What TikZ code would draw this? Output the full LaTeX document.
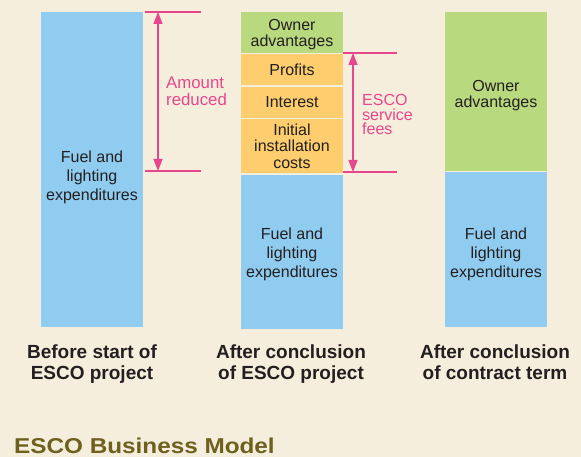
\documentclass[tikz,border=0pt]{standalone}
\usepackage{fontspec}
\setmainfont{Liberation Sans}
\newfontfamily\titlefont[FakeStretch=1.13]{Liberation Sans}
\usetikzlibrary{arrows.meta, positioning}

\definecolor{bgcream}{HTML}{F5EEDC}
\definecolor{fuelblue}{HTML}{8FCCF0}
\definecolor{ownergreen}{HTML}{B9D97F}
\definecolor{feeorange}{HTML}{FDCD6E}
\definecolor{dimpink}{HTML}{E8468C}
\definecolor{titleolive}{HTML}{6E601E}
\definecolor{ink}{HTML}{231F20}

\begin{document}
\begin{tikzpicture}[x=1pt, y=-1pt,
    seg/.style={inner sep=0pt, minimum width=102pt, align=center, text=ink,
        font=\fontsize{16}{16}\selectfont},
    fuel/.style={seg, fill=fuelblue},
    owner/.style={seg, fill=ownergreen},
    fee/.style={seg, fill=feeorange, font=\fontsize{16}{16.5}\selectfont},
    fueltext/.style={inner sep=0pt, align=center, text=ink,
        font=\fontsize{16}{19}\selectfont},
    caption/.style={inner sep=0pt, align=center, text=ink,
        font=\bfseries\fontsize{19}{21}\selectfont},
    note/.style={inner sep=0pt, align=left, text=dimpink},
    dimline/.style={draw=dimpink, line width=1.2pt},
    dimarrow/.style={dimline, {Triangle[length=12pt,width=9pt]}-{Triangle[length=12pt,width=9pt]}}]

    % page
    \fill[bgcream] (0,0) rectangle (581,457);
    \useasboundingbox (0,0) rectangle (581,457);

    % before the project: one bar
    \node[fuel, minimum height=315pt] (fuelBefore) at (92,169.5) {};
    \node[fueltext] (fuelBeforeText) at ([yshift=-8pt]fuelBefore.center)
        {Fuel and\\lighting\\expenditures};

    % after the project: owner share, fees, fuel
    \node[owner, minimum height=41pt] (ownerMid) at (292,32.5) {};
    \node[seg] (ownerMidText) at ([yshift=-2pt]ownerMid.center) {Owner\\advantages};
    \node[fee, minimum height=31pt, below=1pt of ownerMid] (profits) {Profits};
    \node[fee, minimum height=31pt, below=1pt of profits] (interest) {Interest};
    \node[fee, minimum height=54pt, below=1pt of interest] (initial)
        {Initial\\installation\\costs};
    \node[fuel, minimum height=154pt, below=1pt of initial] (fuelMid) {};
    \node[fueltext] (fuelMidText) at ([yshift=-3pt]fuelMid.center)
        {Fuel and\\lighting\\expenditures};

    % after the contract term
    \node[owner, minimum height=159pt] (ownerEnd) at (496,91.5) {};
    \node[seg] (ownerEndText) at ([yshift=-4pt]ownerEnd.center) {Owner\\advantages};
    \node[fuel, minimum height=155pt, below=1pt of ownerEnd] (fuelEnd) {};
    \node[fueltext] (fuelEndText) at ([yshift=-4pt]fuelEnd.center)
        {Fuel and\\lighting\\expenditures};

    % amount reduced
    \coordinate (amtTop) at (158,12);
    \coordinate (amtBot) at (158,171);
    \draw[dimline] (145,12) -- (201,12);
    \draw[dimline] (145,171) -- (201,171);
    \draw[dimarrow] (amtTop) -- (amtBot);
    \node[note, anchor=north west, font=\fontsize{16.8}{16.5}\selectfont] (amount) at (166,77)
        {Amount\\reduced};

    % ESCO service fees
    \coordinate (feeTop) at (353,53);
    \coordinate (feeBot) at (353,172);
    \draw[dimline] (343,53) -- (397,53);
    \draw[dimline] (343,172) -- (397,172);
    \draw[dimarrow] (feeTop) -- (feeBot);
    \node[note, anchor=north west, font=\fontsize{16}{14.5}\selectfont] (fees) at (362,94.5)
        {ESCO\\service\\fees};

    % captions
    \node[caption, anchor=north] (capBefore) at (92,345) {Before start of\\ESCO project};
    \node[caption, anchor=north] (capMid) at (291,345) {After conclusion\\of ESCO project};
    \node[caption, anchor=north] (capEnd) at (495,345) {After conclusion\\of contract term};

    \node[anchor=base west, inner sep=0pt, text=titleolive,
        font=\titlefont\bfseries\fontsize{21.5}{21.5}\selectfont] (title) at (14,453.5) {ESCO Business Model};
\end{tikzpicture}
\end{document}
